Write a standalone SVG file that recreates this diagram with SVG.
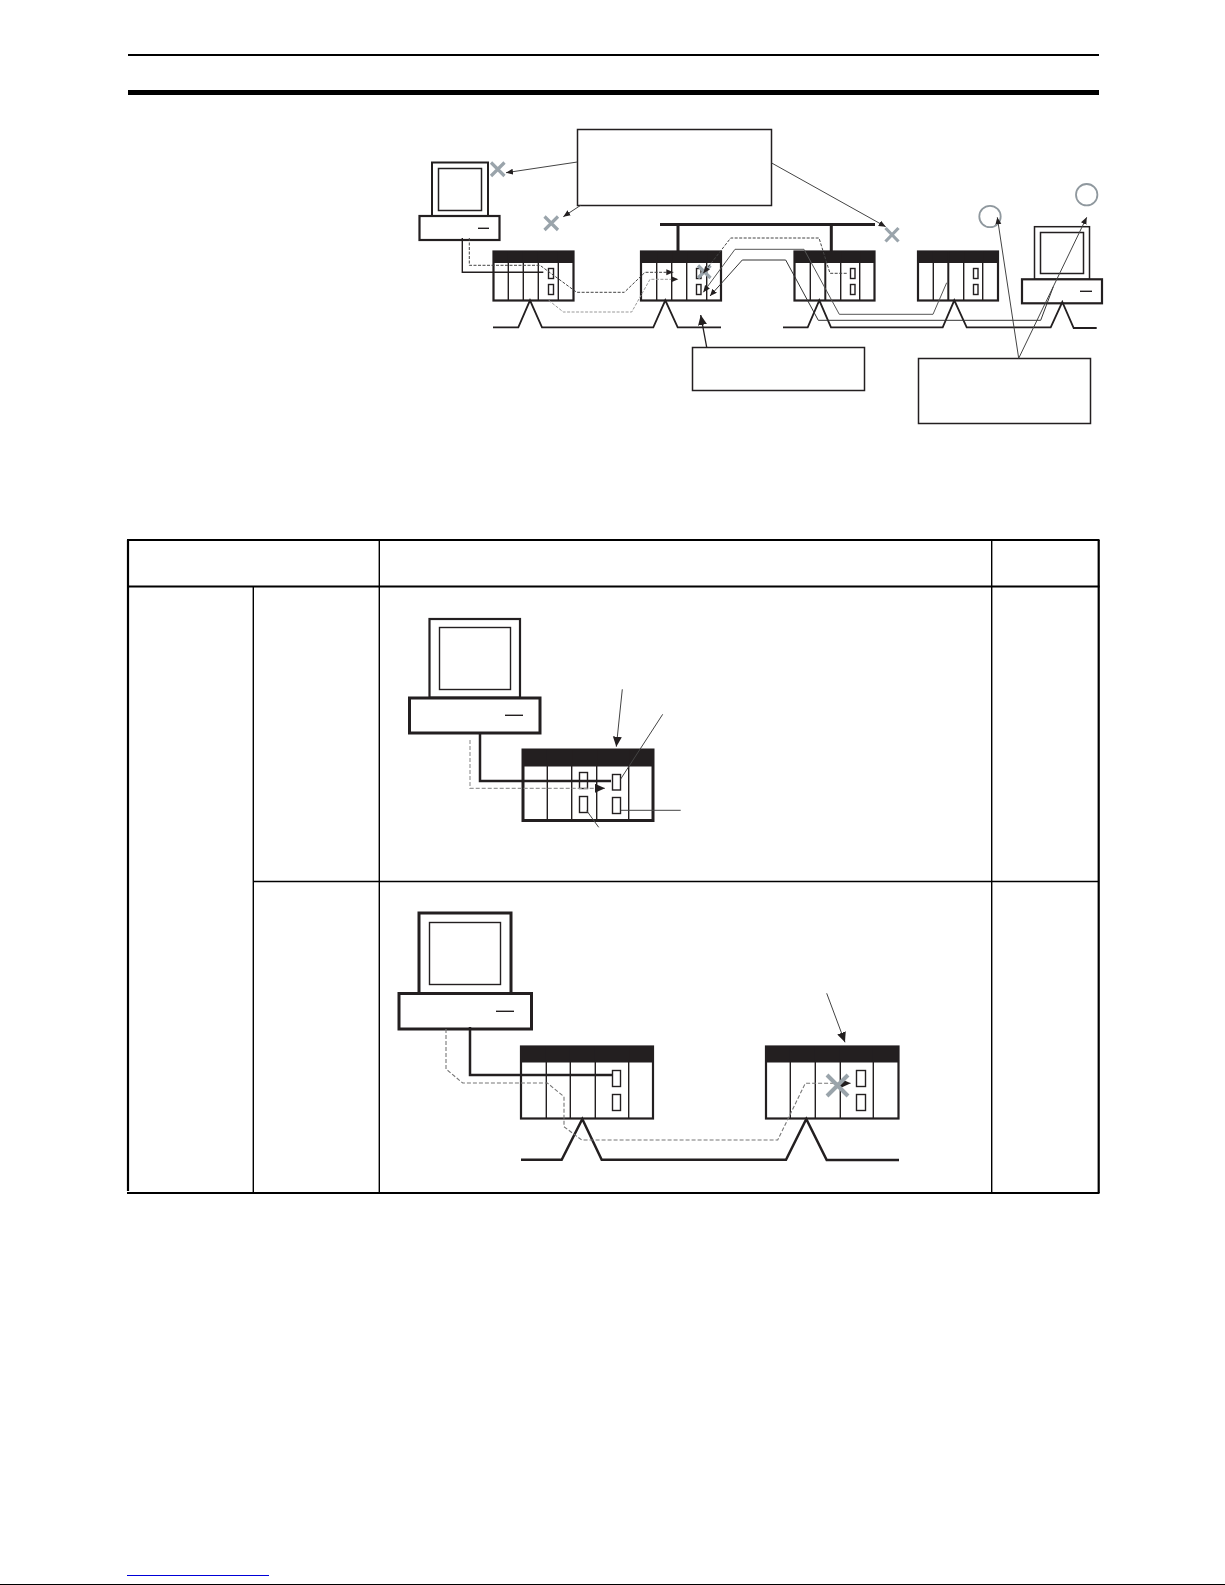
<svg xmlns="http://www.w3.org/2000/svg" width="1225" height="1585" viewBox="0 0 1225 1585">
<style>
.k{fill:none;stroke:#231f20;stroke-width:1.5}
.m{fill:#fff;stroke:#231f20;stroke-width:2}
.t{fill:#fff;stroke:#231f20;stroke-width:2.2}
.t2{fill:#fff;stroke:#231f20;stroke-width:3}
.h{fill:#231f20;stroke:none}
.net{fill:none;stroke:#231f20;stroke-width:1.8}
.net2{fill:none;stroke:#231f20;stroke-width:2.5}
.th{fill:none;stroke:#000;stroke-width:2.2}
.tn{fill:none;stroke:#000;stroke-width:1.4}
.x{fill:none;stroke:#9aa4ab;stroke-width:3.2}
.c{fill:none;stroke:#8f989e;stroke-width:1.8}
.s{fill:none;stroke:#231f20;stroke-width:1.4}
.d{fill:none;stroke:#444;stroke-width:1;stroke-dasharray:3 1.5}
.g{fill:none;stroke:#999;stroke-width:1;stroke-dasharray:3 1.5}
.ar{fill:none;stroke:#444;stroke-width:1}
</style>
<defs>
<marker id="a" markerUnits="userSpaceOnUse" markerWidth="8" markerHeight="7" refX="7" refY="3" orient="auto"><path d="M0 0L7 3L0 6z" fill="#231f20"/></marker>
<marker id="b" markerUnits="userSpaceOnUse" markerWidth="11" markerHeight="10" refX="10" refY="4.5" orient="auto"><path d="M0 0L10 4.5L0 9z" fill="#231f20"/></marker>
</defs>
<rect width="1225" height="1585" fill="#fff"/>
<g id="page-rules">
<rect x="128" y="54" width="971" height="2" fill="#000"/>
<rect x="128" y="90" width="971" height="5" fill="#000"/>
<rect x="127" y="1575" width="142" height="1" fill="#0000d8"/>
<rect x="0" y="1584" width="1225" height="1" fill="#000"/>
</g>
<g id="table">
<path class="th" d="M127 540H1099.5M128 586.5H1099.5M127 1193H1099.5"/>
<path class="tn" d="M253 881.5H1099M253.3 586V1193M379.3 540V1193M991.7 540V1193"/>
<path class="th" d="M128 540V1191M1098.7 540V1193"/>
</g>
<g id="pc-a">
<rect class="m" x="432" y="162.5" width="56" height="53.5"/>
<rect class="k" x="438.5" y="168.5" width="43" height="42"/>
<rect class="t" x="419.5" y="216" width="80" height="24"/>
<path class="s" d="M478 228.3H489"/>
</g>
<g id="pc-b">
<rect class="k" x="1034.5" y="226.7" width="55" height="52.6"/>
<rect class="k" x="1040.5" y="232.5" width="43" height="41"/>
<rect class="t" x="1022" y="279.3" width="80" height="24"/>
<path class="s" d="M1080 291.3H1092"/>
</g>
<g id="bus">
<path fill="none" stroke="#231f20" stroke-width="3" d="M660 224.5H875M678 224V251M831.3 224V251"/>
</g>
<g id="plc-1">
<rect class="t" x="493.5" y="251.5" width="80" height="49"/><rect class="h" x="493.5" y="251.5" width="80" height="11.5"/>
<path class="s" d="M508.3 251V300M523.3 251V300M538.3 251V300M558.3 251V300"/>
<rect class="s" x="548.5" y="268.5" width="5" height="10"/><rect class="s" x="548.5" y="284.5" width="5" height="10"/>
</g>
<g id="plc-2">
<rect class="t" x="641" y="251.5" width="80" height="49"/><rect class="h" x="641" y="251.5" width="80" height="11.5"/>
<path class="s" d="M656.7 251V300M671.7 251V300M686.7 251V300M706.7 251V300"/>
<rect class="s" x="696.5" y="268.5" width="4.5" height="10"/><rect class="s" x="696.5" y="284.5" width="4.5" height="10"/>
</g>
<g id="plc-3">
<rect class="t" x="794.5" y="251.5" width="80" height="49"/><rect class="h" x="794.5" y="251.5" width="80" height="11.5"/>
<path class="s" d="M810.3 251V300M840.7 251V300M859.7 251V300"/><path fill="none" stroke="#231f20" stroke-width="2" d="M825.3 251V300"/>
<rect class="s" x="850.5" y="268.5" width="4.5" height="10"/><rect class="s" x="850.5" y="284.5" width="4.5" height="10"/>
</g>
<g id="plc-4">
<rect class="t" x="918" y="251.5" width="80" height="49"/><rect class="h" x="918" y="251.5" width="80" height="11.5"/>
<path class="s" d="M933.3 251V300M963.7 251V300M982.7 251V300"/><path fill="none" stroke="#231f20" stroke-width="2" d="M948.3 251V300"/>
<rect class="s" x="973.5" y="268.5" width="4.5" height="10"/><rect class="s" x="973.5" y="284.5" width="4.5" height="10"/>
</g>
<g id="callout-1"><rect class="k" x="577.5" y="129.5" width="194" height="76"/></g>
<g id="callout-2"><rect class="k" x="692.5" y="347.5" width="172" height="43"/></g>
<g id="callout-3"><rect class="k" x="918.5" y="358.5" width="172" height="65"/></g>
<g id="marks">
<path class="x" d="M491 162.5L504.5 176M504.5 162.5L491 176M544.5 216.5L558 230M558 216.5L544.5 230M885.5 228L898.5 241.5M898.5 228L885.5 241.5M698 265.5L710.5 278M710.5 265.5L698 278"/>
<circle class="c" cx="990" cy="216.5" r="10.7"/>
<circle class="c" cx="1086.7" cy="194.7" r="10.7"/>
</g>
<g id="plc-t1">
<rect class="t2" x="523" y="750" width="130" height="70.5"/><rect class="h" x="523" y="750" width="130" height="16.5"/>
<path class="s" d="M547.3 750V820M571.7 750V820M596.7 750V820M628.7 750V820"/>
<rect class="s" x="579.5" y="772.5" width="8" height="16"/><rect class="s" x="579.5" y="796.5" width="8" height="16"/>
<rect class="s" x="612.5" y="774.5" width="8" height="15.5"/><rect class="s" x="612.5" y="797.5" width="8" height="16"/>
</g>
<g id="pc-t1">
<rect class="t" x="429.5" y="619" width="90.5" height="78.7"/>
<rect class="s" x="439.5" y="627.5" width="71" height="62"/>
<rect class="t2" x="409.5" y="698" width="130.5" height="35"/>
<path class="s" d="M505 715.3H523"/>
</g>
<g id="plc-t2a">
<rect class="t" x="521" y="1046.5" width="132" height="72"/><rect class="h" x="521" y="1046.5" width="132" height="16"/>
<path class="s" d="M546.3 1046V1118M570.3 1046V1118M595.3 1046V1118M628.7 1046V1118"/>
<rect class="s" x="612.5" y="1070.5" width="8" height="16"/><rect class="s" x="612.5" y="1094.5" width="8" height="16"/>
</g>
<g id="plc-t2b">
<rect class="t" x="766" y="1046.5" width="132.5" height="72"/><rect class="h" x="766" y="1046.5" width="132.5" height="16"/>
<path class="s" d="M790.3 1046V1118M815.3 1046V1118M840.3 1046V1118M873.3 1046V1118"/>
<rect class="s" x="856.5" y="1070.5" width="9" height="16"/><rect class="s" x="856.5" y="1094.5" width="9" height="16"/>
</g>
<g id="pc-t2">
<rect class="t2" x="419" y="913" width="92" height="80.5"/>
<rect class="s" x="429.5" y="922.5" width="71" height="62"/>
<rect class="t2" x="399" y="993.5" width="132.5" height="35.5"/>
<path class="s" d="M496 1011.3H514"/>
</g>
<g id="connectors">
<path class="net" d="M493 327.3H518.3L530 300.3L542 327.3H653.3L665.3 300.3L677.7 327.3H721"/>
<path class="net" d="M783 327.3H807.7L819.3 300.3L831 327.3H942.7L954.3 300.3L966.7 327.3H1050.7L1062.3 302L1073.7 328H1096.7"/>
<path class="s" d="M462.3 238V272.3H543.3"/>
<path class="d" d="M469.3 238V265.3H540L576.7 292.3H624.3L645 272.3H673.3" marker-end="url(#a)"/>
<path class="g" d="M548.7 300.3L563.3 312H631.7L650 279.3H678.3" marker-end="url(#a)"/>
<path class="d" d="M846.7 273.3H830L819 238H730.7L703.3 273.3" marker-end="url(#a)"/>
<path fill="none" stroke="#555" stroke-width="1" d="M946.7 282.7L933 314.3H839.3L804 249.3H735L703.3 292.3" marker-end="url(#a)"/>
<path fill="none" stroke="#333" stroke-width="1" d="M1053.3 286.7L1040.7 320.3H818.3L785.7 260H742.3L710 296" marker-end="url(#a)"/>
<path class="ar" d="M577.3 162L506 172.7" marker-end="url(#a)"/>
<path class="ar" d="M580.7 205.3L563.3 216.7" marker-end="url(#a)"/>
<path class="ar" d="M771.7 163L885.7 226.7" marker-end="url(#a)"/>
<path fill="none" stroke="#231f20" stroke-width="1.3" d="M706.7 347.3L700.7 315" marker-end="url(#b)"/>
<path class="ar" d="M1018.7 358.3L997.3 217.3" marker-end="url(#a)"/>
<path class="ar" d="M1018.7 358.3L1086.7 217.3" marker-end="url(#a)"/>
<path class="net2" d="M480 733V781H611"/>
<path fill="none" stroke="#999" stroke-width="1.2" stroke-dasharray="4 2" d="M470 740V788.3H605" marker-end="url(#b)"/>
<path class="ar" d="M622.3 689.3L616.3 746.7" marker-end="url(#b)"/>
<path class="ar" d="M662.7 714.3L620.7 779M620.7 810.3H680.7M586.7 810.7L598.7 827.3"/>
<path class="net2" d="M521 1159.7H561.7L582.3 1119L601.7 1159.7H786L806.3 1119L826.7 1160H899"/>
<path fill="none" stroke="#231f20" stroke-width="2.5" d="M470 1027V1075H612"/>
<path fill="none" stroke="#777" stroke-width="1.1" stroke-dasharray="4 2" d="M446 1029V1069L462.7 1083H547.3L564 1096.7V1126.7L581.7 1140H777.7L805.3 1083.3H850.7" marker-end="url(#b)"/>
<path class="ar" d="M826.7 993.3L845 1042.3" marker-end="url(#b)"/>
<path fill="none" stroke="#9aa4ab" stroke-width="4" d="M827 1075L848 1096M848 1075L827 1096"/>
</g>
</svg>
